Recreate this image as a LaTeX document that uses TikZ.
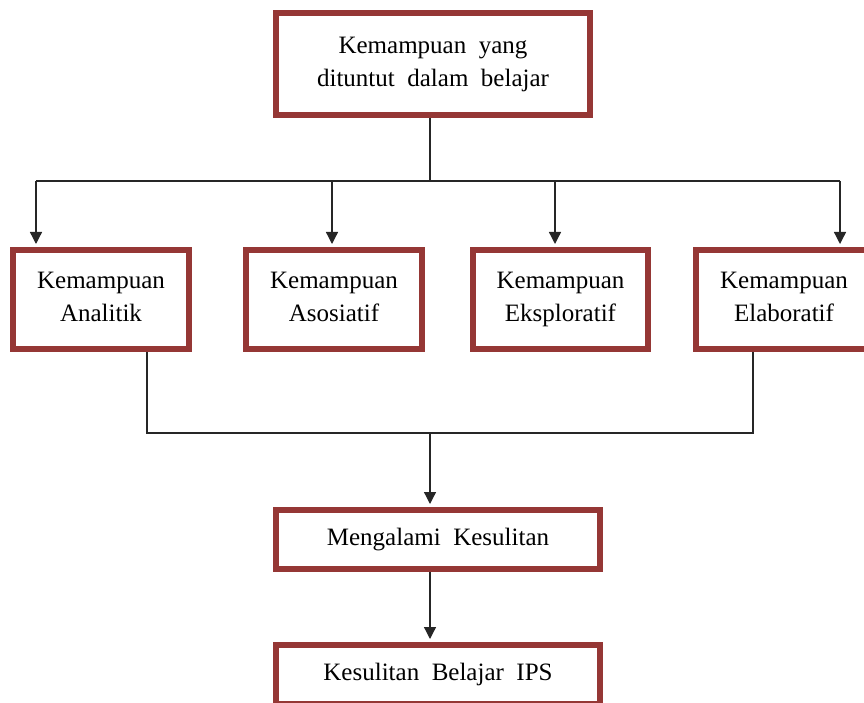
\documentclass[tikz,border=0pt]{standalone}
\usepackage{fontspec}
\setmainfont[WordSpace=2]{Liberation Serif}
\usetikzlibrary{arrows.meta}
\definecolor{boxred}{HTML}{953735}
\begin{document}
\begin{tikzpicture}[x=1pt,y=-1pt,
  box/.style={draw=boxred, line width=6pt, fill=white, align=center,
    font=\fontsize{25}{33}\selectfont, inner sep=0pt},
  rowbox/.style={box, minimum width=176pt, minimum height=99pt, text depth=6pt},
  conn/.style={draw=black!85, line width=1.3pt},
  arr/.style={conn, -{Triangle[length=12pt,width=12pt]}}]
\useasboundingbox (0,0) rectangle (864,703);
% top
\node[box, minimum width=314pt, minimum height=102pt] (top) at (433,64)
  {Kemampuan yang\\dituntut dalam belajar};
% row of four
\node[rowbox] (b1) at (101,299.5) {Kemampuan\\Analitik};
\node[rowbox] (b2) at (334,299.5) {Kemampuan\\Asosiatif};
\node[rowbox, minimum width=175pt] (b3) at (560.5,299.5) {Kemampuan\\Eksploratif};
\node[rowbox] (b4) at (784,299.5) {Kemampuan\\Elaboratif};
% lower
\node[box, minimum width=324pt, minimum height=59pt] (m) at (438,539.5)
  {Mengalami Kesulitan};
\node[box, minimum width=324pt, minimum height=59pt] (k) at (438,674.5)
  {Kesulitan Belajar IPS};
% coordinates
\coordinate (t0) at (430,118);
\coordinate (bus) at (430,181);
\coordinate (a1) at (36,181);
\coordinate (a2) at (332,181);
\coordinate (a3) at (555,181);
\coordinate (a4) at (840,181);
\coordinate (d1) at (147,352);
\coordinate (d4) at (753,352);
\coordinate (j) at (430,433);
\coordinate (jm) at (430,572);
% connectors
\draw[conn] (t0) -- (bus);
\draw[conn] (a1) -- (a4);
\draw[arr] (a1) -- ([yshift=3pt]a1 |- b1.north);
\draw[arr] (a2) -- ([yshift=3pt]a2 |- b2.north);
\draw[arr] (a3) -- ([yshift=3pt]a3 |- b3.north);
\draw[arr] (a4) -- ([yshift=3pt]a4 |- b4.north);
\draw[conn] (d1) -- (d1 |- j) -- (d4 |- j) -- (d4);
\draw[arr] (j) -- ([yshift=3pt]j |- m.north);
\draw[arr] (jm) -- ([yshift=3pt]jm |- k.north);
\end{tikzpicture}
\end{document}
